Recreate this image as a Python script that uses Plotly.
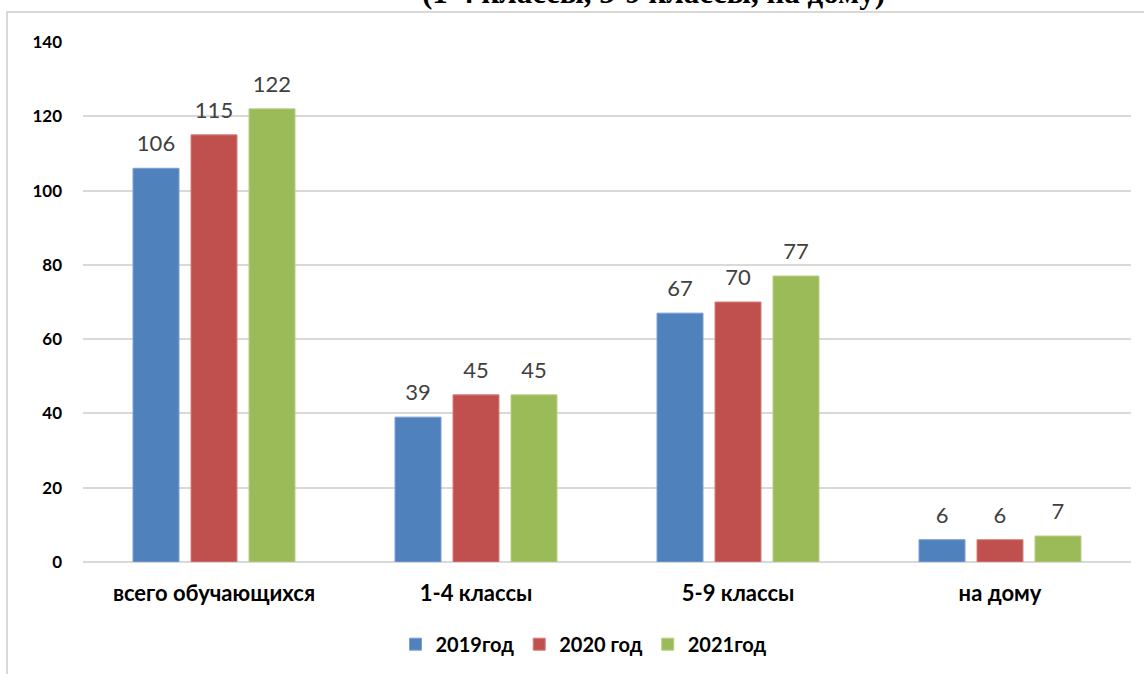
import plotly.graph_objects as go

categories = ["всего обучающихся", "1-4 классы", "5-9 классы", "на дому"]
series_names = ["2019год", "2020 год", "2021год"]
values_2019 = [106, 39, 67, 6]
values_2020 = [115, 45, 70, 6]
values_2021 = [122, 45, 77, 7]
colors = ["#4F81BD", "#C0504D", "#9BBB59"]
edge_colors = ["#7A9FD0", "#D47E7B", "#B5CF85"]
y_ticks = [0, 20, 40, 60, 80, 100, 120, 140]
title_text = "(1-4 классы, 5-9 классы, на дому)"

FONT = "Lato, Open Sans, sans-serif"

fig = go.Figure()
for i, (name, vals, c, ec) in enumerate(zip(series_names, [values_2019, values_2020, values_2021], colors, edge_colors)):
    fig.add_trace(go.Bar(
        x=categories, y=vals, name=name, offsetgroup=str(i),
        marker=dict(color=c, line=dict(color=ec, width=1)),
        hoverinfo="skip",
    ))
for i, vals in enumerate([values_2019, values_2020, values_2021]):
    fig.add_trace(go.Scatter(
        x=categories, y=vals, offsetgroup=str(i), mode="markers+text",
        marker=dict(size=17, opacity=0), text=[str(v) for v in vals],
        textposition="top center",
        textfont=dict(family=FONT, size=22, color="#404040"),
        showlegend=False, hoverinfo="skip", cliponaxis=False,
    ))

fig.update_layout(
    width=1144, height=674,
    margin=dict(l=83, r=13, t=42, b=112, autoexpand=False),
    paper_bgcolor="white", plot_bgcolor="white",
    barmode="group", bargap=0.336, bargroupgap=0.207,
    scattermode="group", scattergap=0.336,
    showlegend=True,
    legend=dict(orientation="h", x=0.4776, xanchor="center", y=-0.158, yanchor="middle",
                font=dict(family=FONT, size=20, color="#000000", weight="bold"),
                itemwidth=30, traceorder="normal"),
    font=dict(family=FONT),
)
fig.update_yaxes(range=[0, 140], tickvals=y_ticks, showgrid=True, gridcolor="#D9D9D9", gridwidth=1.5,
                 zeroline=True, zerolinecolor="#D9D9D9", zerolinewidth=1.5,
                 tickfont=dict(family=FONT, size=17, color="#000000", weight="bold"),
                 ticklabelstandoff=20, showline=False, automargin=False)
fig.update_xaxes(tickfont=dict(family=FONT, size=22, color="#000000", weight="bold"),
                 ticklabelstandoff=16, showline=False, showgrid=False, automargin=False)

# outer chart border
fig.add_shape(type="rect", xref="paper", yref="paper", x0=-0.0725, x1=1.03, y0=-0.25, y1=1.0577,
              line=dict(color="#D9D9D9", width=2), fillcolor="rgba(0,0,0,0)", layer="below")

# partially visible title at the top
fig.add_annotation(text=title_text, xref="paper", yref="paper", x=0.544, y=1.0577, xanchor="center",
                   yanchor="bottom", yshift=0, showarrow=False,
                   font=dict(family="Liberation Serif, Times New Roman, serif", size=31, color="#000000", weight="bold"))

fig.write_html("out.html", config={"displayModeBar": False},
               post_script="document.body.style.margin='0px';")
